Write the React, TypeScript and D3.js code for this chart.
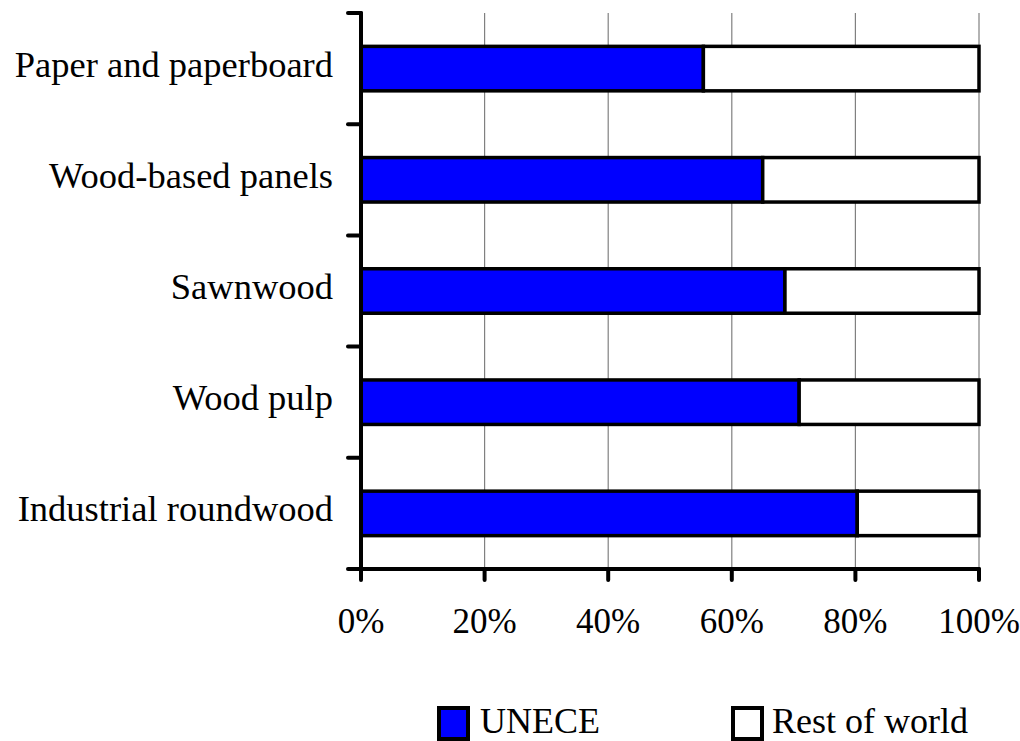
import React from "react";
import * as d3 from "d3";

const categories = [
  "Paper and paperboard",
  "Wood-based panels",
  "Sawnwood",
  "Wood pulp",
  "Industrial roundwood",
];
const uneceShare = [55.4, 65.0, 68.6, 70.9, 80.3];
const restShare = uneceShare.map((v) => 100 - v);
const xTicks = [0, 20, 40, 60, 80, 100];
const seriesNames = ["UNECE", "Rest of world"];
const seriesColors = ["#0000FF", "#FFFFFF"];

const FONT = "Liberation Serif, Times New Roman, Times, DejaVu Serif, serif";
const txt = { fontFamily: FONT };

export default function App() {
  const W = 1020;
  const H = 741;
  const left = 361;
  const right = 979;
  const top = 13;
  const bottom = 569;

  const x = d3.scaleLinear().domain([0, 100]).range([left, right]);
  const y = d3
    .scaleBand<string>()
    .domain(categories)
    .range([top, bottom])
    .paddingInner(0.6)
    .paddingOuter(0.3);
  const yBound = d3
    .scaleLinear()
    .domain([0, categories.length])
    .range([top, bottom]);

  const bw = y.bandwidth();

  return (
    <svg
      width={W}
      height={H}
      style={{ position: "absolute", left: 0, top: 0, background: "#fff", fontFamily: FONT }}
    >
      {xTicks.slice(1).map((t) => (
        <line
          key={"g" + t}
          x1={x(t)}
          x2={x(t)}
          y1={top}
          y2={bottom}
          stroke="#808080"
          strokeWidth={1.2}
        />
      ))}
      {categories.map((c, i) => {
        const y0 = y(c)!;
        return (
          <g key={c}>
            <rect
              x={x(0)}
              y={y0}
              width={x(uneceShare[i]) - x(0)}
              height={bw}
              fill={seriesColors[0]}
              stroke="#000"
              strokeWidth={3.5}
            />
            <rect
              x={x(uneceShare[i])}
              y={y0}
              width={x(uneceShare[i] + restShare[i]) - x(uneceShare[i])}
              height={bw}
              fill={seriesColors[1]}
              stroke="#000"
              strokeWidth={3.5}
            />
          </g>
        );
      })}
      <line x1={left} x2={left} y1={top} y2={bottom} stroke="#000" strokeWidth={4} strokeLinecap="round" />
      <line x1={left} x2={right} y1={bottom} y2={bottom} stroke="#000" strokeWidth={4} strokeLinecap="round" />
      {d3.range(categories.length + 1).map((k) => (
        <line
          key={"yt" + k}
          x1={left - 13}
          x2={left}
          y1={yBound(k)}
          y2={yBound(k)}
          stroke="#000"
          strokeWidth={4}
          strokeLinecap="round"
        />
      ))}
      {xTicks.map((t) => (
        <line
          key={"xt" + t}
          x1={x(t)}
          x2={x(t)}
          y1={bottom}
          y2={bottom + 11}
          stroke="#000"
          strokeWidth={4}
          strokeLinecap="round"
        />
      ))}
      {categories.map((c) => (
        <text
          key={"l" + c}
          x={333}
          y={y(c)! + bw / 2 + 8}
          textAnchor="end"
          fontSize={36.5}
          fill="#000"
          style={txt}
        >
          {c}
        </text>
      ))}
      {xTicks.map((t) => (
        <text
          key={"xl" + t}
          x={x(t)}
          y={633}
          textAnchor="middle"
          fontSize={35}
          fill="#000"
          style={txt}
        >
          {t + "%"}
        </text>
      ))}
      <rect x={439} y={708} width={29} height={31} fill={seriesColors[0]} stroke="#000" strokeWidth={4} />
      <text x={480} y={733} fontSize={36} fill="#000" style={txt}>{seriesNames[0]}</text>
      <rect x={733} y={708} width={29} height={31} fill={seriesColors[1]} stroke="#000" strokeWidth={4} />
      <text x={772} y={733} fontSize={36} fill="#000" style={txt}>{seriesNames[1]}</text>
    </svg>
  );
}
